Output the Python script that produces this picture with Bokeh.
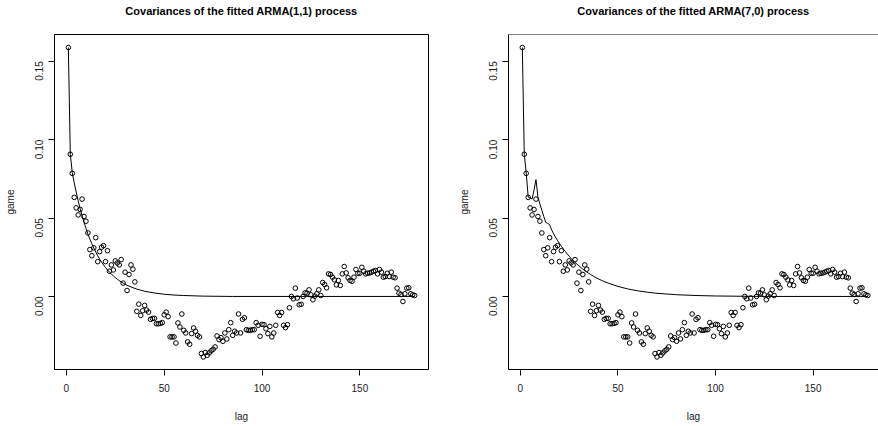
import math
from bokeh.plotting import figure
from bokeh.layouts import row
from bokeh.models import FixedTicker, PrintfTickFormatter, Range1d, Span, Title
from bokeh.embed import file_html
from bokeh.resources import INLINE

# ---- data ----
lags = list(range(1, 179))
game = [
    0.1588, 0.0907, 0.0785, 0.0632, 0.0565, 0.0520, 0.0555, 0.0621, 0.0510, 0.0480,
    0.0405, 0.0299, 0.0260, 0.0310, 0.0375, 0.0222, 0.0286, 0.0314, 0.0324, 0.0222,
    0.0292, 0.0161, 0.0201, 0.0169, 0.0227, 0.0214, 0.0201, 0.0235, 0.0085, 0.0155,
    0.0038, 0.0140, 0.0201, 0.0174, 0.0093, -0.0095, -0.0049, -0.0121, -0.0091, -0.0057,
    -0.0087, -0.0100, -0.0146, -0.0140, -0.0140, -0.0174, -0.0174, -0.0172, -0.0167, -0.0117,
    -0.0100, -0.0129, -0.0258, -0.0258, -0.0258, -0.0297, -0.0169, -0.0195, -0.0112, -0.0216,
    -0.0233, -0.0290, -0.0305, -0.0237, -0.0201, -0.0222, -0.0248, -0.0258, -0.0364, -0.0386,
    -0.0358, -0.0375, -0.0360, -0.0347, -0.0337, -0.0322, -0.0252, -0.0275, -0.0263, -0.0286,
    -0.0233, -0.0271, -0.0212, -0.0167, -0.0248, -0.0222, -0.0233, -0.0112, -0.0233, -0.0146,
    -0.0136, -0.0212, -0.0216, -0.0216, -0.0212, -0.0212, -0.0167, -0.0184, -0.0254, -0.0178,
    -0.0180, -0.0206, -0.0237, -0.0191, -0.0258, -0.0233, -0.0184, -0.0102, -0.0121, -0.0102,
    -0.0184, -0.0199, -0.0180, -0.0072, 0.0000, -0.0015, 0.0053, -0.0010, -0.0053, -0.0050,
    0.0000, 0.0023, 0.0021, 0.0042, 0.0010, -0.0021, 0.0002, 0.0017, 0.0042, 0.0006,
    0.0089, 0.0076, 0.0055, 0.0144, 0.0140, 0.0123, 0.0106, 0.0074, 0.0102, 0.0070,
    0.0144, 0.0191, 0.0150, 0.0119, 0.0102, 0.0097, 0.0123, 0.0172, 0.0148, 0.0148,
    0.0186, 0.0161, 0.0144, 0.0148, 0.0150, 0.0155, 0.0161, 0.0165, 0.0144, 0.0172,
    0.0155, 0.0123, 0.0127, 0.0148, 0.0127, 0.0155, 0.0123, 0.0119, 0.0053, 0.0021,
    0.0013, -0.0032, 0.0017, 0.0053, 0.0055, 0.0017, 0.0010, 0.0006,
]

arma11_lag = [1, 2, 3, 4, 5, 6, 7, 8, 9, 10, 11, 12, 13, 14, 15, 16, 17, 18, 19, 20,
              21, 22, 23, 24, 25, 26, 27, 28, 29, 30, 32, 34, 36, 38, 40, 45, 50, 55,
              60, 70, 85, 178]
arma11_cov = [0.1588, 0.0907, 0.0790, 0.0725, 0.0666, 0.0611, 0.0561, 0.0515, 0.0473,
              0.0434, 0.0398, 0.0366, 0.0336, 0.0308, 0.0283, 0.0260, 0.0238, 0.0219,
              0.0201, 0.0184, 0.0169, 0.0155, 0.0143, 0.0131, 0.0120, 0.0110, 0.0101,
              0.0093, 0.0085, 0.0078, 0.0066, 0.0056, 0.0047, 0.0040, 0.0033, 0.0022,
              0.0014, 0.0009, 0.0006, 0.0002, 0.0000, 0.0000]

ar7_lag = [1, 2, 3, 4, 5, 6, 7, 8, 9, 10, 11, 12, 13, 14, 15, 16, 17, 18, 19, 20,
           21, 22, 23, 24, 25, 26, 27, 28, 29, 30, 32, 34, 36, 38, 40, 42, 45, 50,
           55, 60, 65, 70, 80, 90, 100, 115, 130, 178]
ar7_cov = [0.1588, 0.0907, 0.0787, 0.0634, 0.0628, 0.0622, 0.0680, 0.0745, 0.0634,
           0.0590, 0.0550, 0.0510, 0.0472, 0.0466, 0.0458, 0.0425, 0.0400, 0.0378,
           0.0358, 0.0339, 0.0320, 0.0303, 0.0287, 0.0271, 0.0257, 0.0243, 0.0230,
           0.0217, 0.0206, 0.0195, 0.0174, 0.0156, 0.0140, 0.0125, 0.0112, 0.0100,
           0.0085, 0.0064, 0.0048, 0.0036, 0.0027, 0.0020, 0.0011, 0.0006, 0.0003,
           0.0001, 0.0000, 0.0000]

x_ticks = [0, 50, 100, 150]
y_ticks = [0.00, 0.05, 0.10, 0.15]
titles = ["Covariances of the fitted ARMA(1,1) process",
          "Covariances of the fitted ARMA(7,0) process"]

FONT = "Liberation Sans"
Y0, Y1 = -0.0466, 0.1671


def make_panel(title, lx, ly, border_left, border_right, x_end, full_box):
    p = figure(width=439, height=426, output_backend="svg", toolbar_location=None,
               x_range=Range1d(-6.08, x_end), y_range=Range1d(Y0, Y1),
               min_border_left=border_left, min_border_right=border_right,
               min_border_top=34, min_border_bottom=57)
    p.background_fill_color = "white"
    p.border_fill_color = "white"
    p.grid.visible = False
    if full_box:
        p.outline_line_color = "black"
        p.outline_line_width = 1
        p.outline_line_alpha = 1
    else:
        p.outline_line_color = None
        p.add_layout(Span(location=Y1, dimension="width",
                          line_color="black", line_width=1))

    # real title is outermost; an empty spacer title sits between it and the frame
    p.title.text = title
    p.title.align = "center"
    p.title.standoff = 0
    p.title.text_font = FONT
    p.title.text_font_size = "11px"
    p.title.text_font_style = "bold"
    p.title.text_color = "black"
    p.add_layout(Title(text=" ", text_font_size="10px", standoff=5), "above")

    for ax in (p.xaxis[0], p.yaxis[0]):
        ax.axis_line_color = "black"
        ax.major_tick_line_color = "black"
        ax.major_tick_in = 0
        ax.major_tick_out = 6
        ax.minor_tick_line_color = None
        ax.major_label_text_font = FONT
        ax.major_label_text_font_size = "10px"
        ax.major_label_text_color = "#222222"
        ax.axis_label_text_font = FONT
        ax.axis_label_text_font_size = "10px"
        ax.axis_label_text_font_style = "normal"
        ax.axis_label_text_color = "#222222"

    p.xaxis.ticker = FixedTicker(ticks=x_ticks)
    p.xaxis.axis_label = "lag"
    p.xaxis.major_label_standoff = 8
    p.xaxis.axis_label_standoff = 16

    p.yaxis.ticker = FixedTicker(ticks=y_ticks)
    p.yaxis.formatter = PrintfTickFormatter(format="%.2f")
    p.yaxis.major_label_orientation = math.pi / 2
    p.yaxis.axis_label = "game"
    p.yaxis.major_label_standoff = 9
    p.yaxis.axis_label_standoff = 13

    p.line(lx, ly, line_color="black", line_width=1)
    p.scatter(lags, game, marker="circle", size=4.6, fill_color=None,
              line_color="black", line_width=1)
    return p


p1 = make_panel(titles[0], arma11_lag, arma11_cov, 54, 11, 185.08, True)
p2 = make_panel(titles[1], ar7_lag, ar7_cov, 69, 0, 183.47, False)

layout = row(p1, p2, spacing=0)
open("out.html", "w").write(file_html(layout, INLINE))
